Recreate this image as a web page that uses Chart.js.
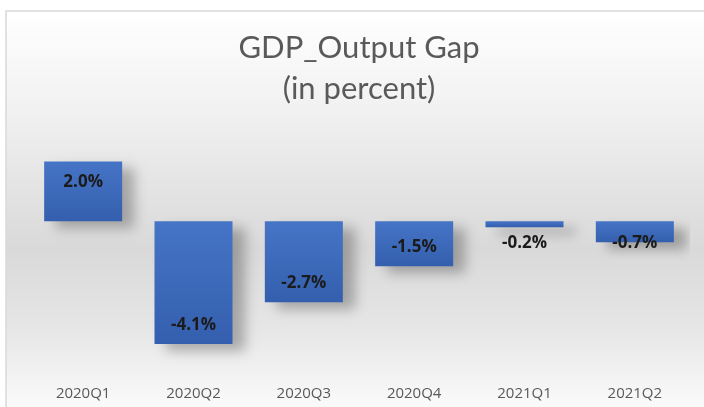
<!DOCTYPE html>
<html>
<head>
<meta charset="utf-8">
<script src="https://cdn.jsdelivr.net/npm/chart.js@4/dist/chart.umd.min.js"></script>
<style>
html,body{margin:0;padding:0;background:#fff;}
#wrap{width:704px;height:407px;position:relative;}
</style>
</head>
<body>
<div id="wrap"><canvas id="c" width="704" height="407"></canvas></div>
<script>
const categories = ["2020Q1","2020Q2","2020Q3","2020Q4","2021Q1","2021Q2"];
const outputGap = [2.0, -4.1, -2.7, -1.5, -0.2, -0.7];
const valueLabels = ["2.0%","-4.1%","-2.7%","-1.5%","-0.2%","-0.7%"];
const titleLines = ["GDP_Output Gap","(in percent)"];

const bgPlugin = {
  id: 'bg',
  beforeDraw(chart) {
    const ctx = chart.ctx;
    const w = chart.width, h = chart.height;
    ctx.save();
    ctx.fillStyle = '#ffffff';
    ctx.fillRect(0,0,w,h);
    const g = ctx.createLinearGradient(0, 11, 0, 407);
    g.addColorStop(0, '#ffffff');
    g.addColorStop(0.25, '#f1f1f1');
    g.addColorStop(0.6, '#d9d9d9');
    g.addColorStop(0.8, '#e6e6e6');
    g.addColorStop(1, '#fafafa');
    ctx.fillStyle = g;
    ctx.fillRect(6, 11, w - 6, h - 11);
    ctx.strokeStyle = '#d9d9d9';
    ctx.lineWidth = 1.5;
    ctx.beginPath();
    ctx.moveTo(6, h);
    ctx.lineTo(6, 11);
    ctx.lineTo(w, 11);
    ctx.stroke();
    ctx.restore();
  }
};

const shadowPlugin = {
  id: 'barShadow',
  beforeDatasetsDraw(chart) {
    const ctx = chart.ctx;
    ctx.save();
    ctx.shadowColor = 'rgba(0,0,0,0.28)';
    ctx.shadowBlur = 12;
    ctx.shadowOffsetX = 12;
    ctx.shadowOffsetY = 7;
  },
  afterDatasetsDraw(chart) {
    chart.ctx.restore();
  }
};

const labelPlugin = {
  id: 'valLabels',
  afterDatasetsDraw(chart) {
    const ctx = chart.ctx;
    const meta = chart.getDatasetMeta(0);
    const zero = chart.scales.y.getPixelForValue(0);
    ctx.save();
    ctx.font = 'bold 17px "Open Sans", sans-serif';
    ctx.fillStyle = '#1b1b1b';
    ctx.textAlign = 'center';
    ctx.textBaseline = 'middle';
    meta.data.forEach((bar, i) => {
      const v = outputGap[i];
      let y;
      if (v >= 0) {
        y = bar.y + 21;
      } else {
        y = Math.max(bar.y - 19, zero + 22);
      }
      ctx.fillText(valueLabels[i], bar.x, y);
    });
    ctx.restore();
  }
};

function barGradient(c) {
  const chart = c.chart;
  const ys = chart.scales && chart.scales.y;
  if (!chart.chartArea || !ys || c.raw === undefined) return '#4472c4';
  const a = ys.getPixelForValue(c.raw), b = ys.getPixelForValue(0);
  const top = Math.min(a, b), bot = Math.max(a, b);
  if (!isFinite(top) || !isFinite(bot) || !(bot > top)) return '#4472c4';
  const g = chart.ctx.createLinearGradient(0, top, 0, bot);
  g.addColorStop(0, '#4674c6');
  g.addColorStop(1, '#345fae');
  return g;
}

new Chart(document.getElementById('c'), {
  type: 'bar',
  data: {
    labels: categories,
    datasets: [{
      data: outputGap,
      backgroundColor: barGradient,
      borderWidth: 0,
      barPercentage: 0.707,
      categoryPercentage: 1.0
    }]
  },
  options: {
    responsive: false,
    animation: false,
    devicePixelRatio: 1,
    layout: { padding: { left: 28, right: 14, top: 0, bottom: 0 } },
    plugins: {
      legend: { display: false },
      tooltip: { enabled: false },
      title: {
        display: true,
        text: titleLines,
        color: '#595959',
        font: { family: 'Lato, "Open Sans", sans-serif', size: 31, weight: 'normal', lineHeight: 1.33 },
        padding: { top: 27, bottom: 22 }
      }
    },
    scales: {
      x: {
        grid: { display: false, drawTicks: false, drawOnChartArea: false },
        border: { display: false },
        ticks: { color: '#595959', font: { family: '"Open Sans", sans-serif', size: 15 }, padding: 14, maxRotation: 0 },
        afterFit(scale) { scale.height = 36; }
      },
      y: {
        display: false,
        min: -5,
        max: 3
      }
    }
  },
  plugins: [bgPlugin, shadowPlugin, labelPlugin]
});
</script>
</body>
</html>
